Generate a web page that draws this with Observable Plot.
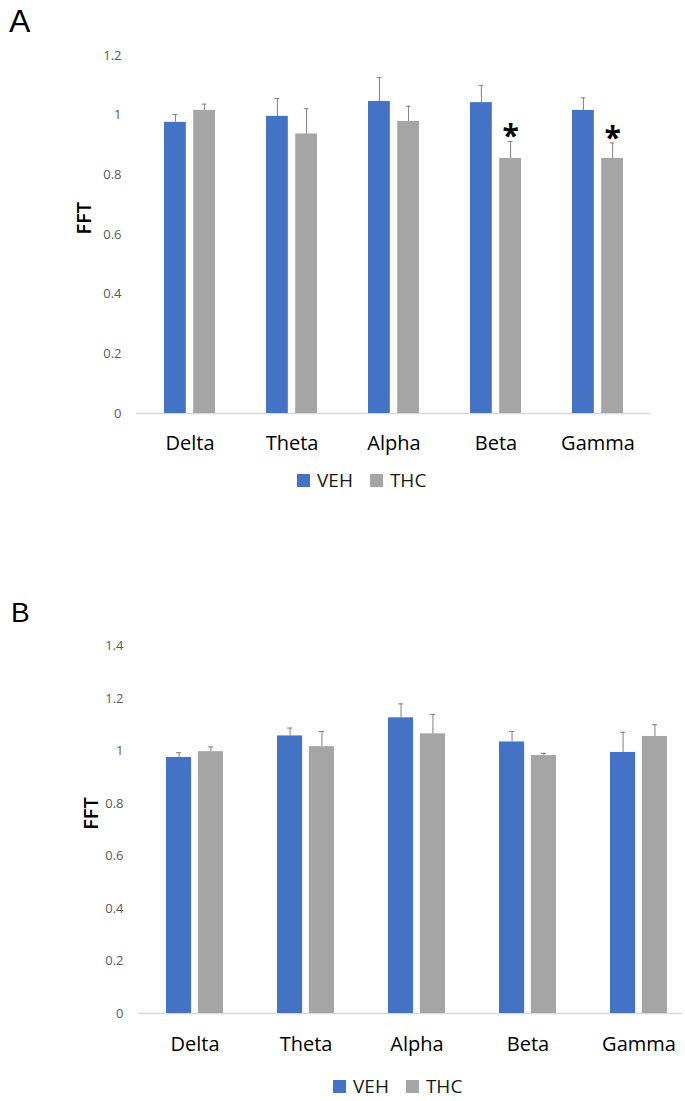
<!DOCTYPE html>
<html><head><meta charset="utf-8">
<script src="https://cdn.jsdelivr.net/npm/d3@7"></script>
<script src="https://cdn.jsdelivr.net/npm/@observablehq/plot@0.6"></script>
<style>
body{margin:0;background:#fff;}
#wrap{position:relative;width:685px;height:1101px;overflow:hidden;font-family:"Open Sans",sans-serif;background:#fff;}
.panel{position:absolute;left:0;}
.letter{position:absolute;line-height:normal;color:#000;font-family:"Liberation Sans",sans-serif;}
.legend{position:absolute;display:flex;align-items:center;font-size:19px;line-height:19px;color:#1a1a1a;white-space:nowrap;}
.sw{display:inline-block;width:13px;height:13px;margin-right:7px;}
.item{display:flex;align-items:center;margin-right:17px;}
</style></head><body><div id="wrap"></div>
<script>
// ---- data ----
const bands = ["Delta", "Theta", "Alpha", "Beta", "Gamma"];
const series = ["VEH", "THC"];
const colors = ["#4472C4", "#A5A5A5"];
const errColor = "#7F7F7F";

// Panel A
const vehA    = [0.976, 0.996, 1.046, 1.042, 1.016];
const vehErrA = [0.026, 0.060, 0.080, 0.058, 0.042];
const thcA    = [1.016, 0.937, 0.979, 0.855, 0.855];
const thcErrA = [0.021, 0.085, 0.051, 0.057, 0.052];
const sigA    = ["", "", "", "*", "*"];
const yTicksA = [0, 0.2, 0.4, 0.6, 0.8, 1, 1.2];

// Panel B
const vehB    = [0.976, 1.058, 1.127, 1.035, 0.995];
const vehErrB = [0.018, 0.030, 0.053, 0.040, 0.077];
const thcB    = [0.998, 1.017, 1.066, 0.983, 1.056];
const thcErrB = [0.018, 0.058, 0.074, 0.009, 0.045];
const sigB    = ["", "", "", "", ""];
const yTicksB = [0, 0.2, 0.4, 0.6, 0.8, 1, 1.2, 1.4];

function panel(cfg) {
  const {width, height, ml, mr, mt, mb, pi, po, align, gap, yMax, yTicks,
         veh, vehErr, thc, thcErr, sig, labelDx, xPad} = cfg;
  const step = (width - ml - mr) / (bands.length - pi + 2 * po);
  const bw = step * (1 - pi);
  const barW = (bw - gap) / 2;
  const off = (barW + gap) / 2;
  const capHalf = 2.5;
  const rows = bands.map((b, i) => ({
    band: b, veh: veh[i], vehTop: veh[i] + vehErr[i],
    thc: thc[i], thcTop: thc[i] + thcErr[i], sig: sig[i]
  }));
  return Plot.plot({
    width, height,
    marginLeft: ml, marginRight: mr, marginTop: mt, marginBottom: mb,
    style: {fontFamily: '"Open Sans", sans-serif', background: "white"},
    x: {domain: bands, paddingInner: pi, paddingOuter: po, align},
    y: {domain: [0, yMax]},
    marks: [
      Plot.ruleY([0], {stroke: "#D9D9D9", strokeWidth: 1.3}),
      Plot.barY(rows, {x: "band", y: "veh", fill: colors[0], insetRight: bw - barW}),
      Plot.barY(rows, {x: "band", y: "thc", fill: colors[1], insetLeft: bw - barW}),
      Plot.ruleX(rows, {x: "band", y1: "veh", y2: "vehTop", dx: -off, stroke: errColor}),
      Plot.ruleX(rows, {x: "band", y1: "thc", y2: "thcTop", dx: off, stroke: errColor}),
      Plot.tickY(rows, {x: "band", y: "vehTop", stroke: errColor,
        insetLeft: barW / 2 - capHalf, insetRight: bw - barW / 2 - capHalf}),
      Plot.tickY(rows, {x: "band", y: "thcTop", stroke: errColor,
        insetLeft: bw - barW / 2 - capHalf, insetRight: barW / 2 - capHalf}),
      Plot.text(rows.filter(d => d.sig), {x: "band", y: "thcTop", text: "sig", dx: off, dy: -5,
        fontSize: 30, fontWeight: 700, fill: "#000"}),
      Plot.axisY(yTicks, {tickSize: 0, tickPadding: 15, tickFormat: d => String(+d.toFixed(1)),
        fontSize: 13, color: "#595959", label: null}),
      Plot.axisX({tickSize: 0, tickPadding: xPad, fontSize: 20, color: "#000", label: null}),
      Plot.text(["FFT"], {frameAnchor: "left", dx: labelDx, rotate: -90, fontSize: 20,
        fontWeight: 600, fill: "#000"})
    ]
  });
}

function legend(left, top) {
  const div = document.createElement("div");
  div.className = "legend";
  div.style.left = left + "px";
  div.style.top = top + "px";
  series.forEach((s, i) => {
    const it = document.createElement("span");
    it.className = "item";
    const sw = document.createElement("span");
    sw.className = "sw";
    sw.style.background = colors[i];
    const t = document.createElement("span");
    t.textContent = s;
    it.appendChild(sw); it.appendChild(t);
    div.appendChild(it);
  });
  return div;
}

function letter(txt, left, top, size) {
  const d = document.createElement("div");
  d.className = "letter";
  d.style.left = left + "px";
  d.style.top = top + "px";
  d.style.fontSize = size + "px";
  d.textContent = txt;
  return d;
}

const wrap = document.getElementById("wrap");

const svgA = panel({width: 685, height: 500, ml: 136, mr: 35, mt: 55, mb: 87,
  pi: 0.5, po: 0.25, align: 0.5, gap: 7, yMax: 1.2, yTicks: yTicksA,
  veh: vehA, vehErr: vehErrA, thc: thcA, thcErr: thcErrA, sig: sigA, labelDx: -51.5, xPad: 22});
const pa = document.createElement("div");
pa.className = "panel"; pa.style.top = "0px";
pa.appendChild(svgA);
wrap.appendChild(pa);

const svgB = panel({width: 685, height: 521, ml: 138, mr: 3, mt: 65.7, mb: 88,
  pi: 0.49, po: 0.189, align: 0.64, gap: 7, yMax: 1.4, yTicks: yTicksB,
  veh: vehB, vehErr: vehErrB, thc: thcB, thcErr: thcErrB, sig: sigB, labelDx: -47, xPad: 23.5});
const pb = document.createElement("div");
pb.className = "panel"; pb.style.top = "580px";
pb.appendChild(svgB);
wrap.appendChild(pb);

wrap.appendChild(letter("A", 9, 3, 32));
wrap.appendChild(letter("B", 11, 597, 28));
wrap.appendChild(legend(297, 471));
wrap.appendChild(legend(333, 1077));
</script>
</body></html>
